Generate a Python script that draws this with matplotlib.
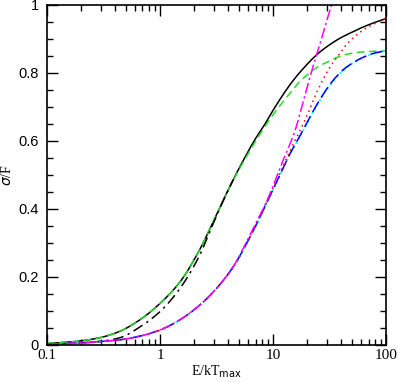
import numpy as np
import matplotlib
matplotlib.use("Agg")
import matplotlib.pyplot as plt
from matplotlib.ticker import FixedLocator, FuncFormatter, LogLocator, MultipleLocator

# Data
e_up = [0.1, 0.15, 0.2, 0.3, 0.44, 0.665, 1.0, 1.5, 2.26, 2.77, 3.5, 4.43, 5.5, 6.94, 8.5, 10, 14.1, 17.3, 25, 32, 39, 50, 62.6, 80, 100]
black_solid = [0.004, 0.008, 0.012, 0.022, 0.040, 0.074, 0.122, 0.185, 0.282, 0.342, 0.415, 0.485, 0.545, 0.605, 0.65, 0.69, 0.765, 0.802, 0.857, 0.884, 0.902, 0.92, 0.935, 0.949, 0.96]
green_dash = [0.004, 0.008, 0.012, 0.022, 0.040, 0.074, 0.122, 0.185, 0.282, 0.342, 0.415, 0.484, 0.54, 0.597, 0.643, 0.677, 0.74, 0.775, 0.818, 0.836, 0.849, 0.858, 0.862, 0.864, 0.865]

e_dd = [0.1, 0.15, 0.2, 0.3, 0.44, 0.665, 1.0, 1.5, 2.26, 2.77, 3.5, 4.43]
black_dashdot = [0.002, 0.004, 0.006, 0.011, 0.021, 0.053, 0.098, 0.166, 0.266, 0.335, 0.413, 0.485]

e_lo = [0.1, 0.15, 0.2, 0.3, 0.44, 0.665, 1.0, 1.5, 2.26, 3.0, 4.43, 6.65, 9.0, 11.5, 14, 17.3, 20, 26, 32, 39, 45, 62.6, 80, 100]
blue_dash = [0.002, 0.004, 0.006, 0.010, 0.015, 0.026, 0.044, 0.074, 0.118, 0.158, 0.229, 0.335, 0.425, 0.5, 0.56, 0.615, 0.655, 0.722, 0.767, 0.8, 0.818, 0.846, 0.859, 0.865]
cyan_dot = [0.002, 0.004, 0.006, 0.010, 0.015, 0.025, 0.043, 0.073, 0.117, 0.157, 0.228, 0.333, 0.423, 0.498, 0.558, 0.613, 0.653, 0.72, 0.765, 0.798, 0.817, 0.845, 0.858, 0.865]

e_red = [0.1, 0.15, 0.2, 0.3, 0.44, 0.665, 1.0, 1.5, 2.26, 3.0, 4.43, 6.65, 9.0, 11.5, 14, 17.3, 20, 24.5, 32, 39, 45, 62.6, 80, 100]
red_dot = [0.002, 0.004, 0.006, 0.010, 0.015, 0.026, 0.044, 0.074, 0.118, 0.158, 0.229, 0.336, 0.427, 0.505, 0.568, 0.63, 0.675, 0.745, 0.818, 0.857, 0.885, 0.926, 0.946, 0.96]

e_mag = [0.1, 0.15, 0.2, 0.3, 0.44, 0.665, 1.0, 1.5, 2.26, 3.0, 4.43, 6.65, 9.0, 11.5, 15.7, 19, 22.4, 26, 29, 33, 38]
magenta_dd = [0.002, 0.004, 0.006, 0.010, 0.015, 0.026, 0.044, 0.074, 0.118, 0.158, 0.23, 0.342, 0.43, 0.52, 0.632, 0.73, 0.815, 0.885, 0.94, 1.0, 1.07]

x_ticks = [0.1, 1, 10, 100]
y_ticks = [0, 0.2, 0.4, 0.6, 0.8, 1]


def smooth(e, v, n=400):
    # monotone cubic (Fritsch-Carlson) through the read points, in log E
    x = np.log10(e)
    y = np.asarray(v, float)
    h = np.diff(x)
    d = np.diff(y) / h
    m = np.zeros_like(y)
    m[0], m[-1] = d[0], d[-1]
    for i in range(1, len(y) - 1):
        if d[i - 1] * d[i] > 0:
            w1 = 2 * h[i] + h[i - 1]
            w2 = h[i] + 2 * h[i - 1]
            m[i] = (w1 + w2) / (w1 / d[i - 1] + w2 / d[i])
    xs = np.linspace(x[0], x[-1], n)
    k = np.clip(np.searchsorted(x, xs) - 1, 0, len(h) - 1)
    t = (xs - x[k]) / h[k]
    h00 = 2 * t**3 - 3 * t**2 + 1
    h10 = t**3 - 2 * t**2 + t
    h01 = -2 * t**3 + 3 * t**2
    h11 = t**3 - t**2
    ys = h00 * y[k] + h10 * h[k] * m[k] + h01 * y[k + 1] + h11 * h[k] * m[k + 1]
    return 10**xs, ys


# Plot
fig = plt.figure(figsize=(3.98, 3.82), dpi=100)
ax = fig.add_axes([0.118, 0.097, 0.852, 0.89])

ax.plot(*smooth(e_up, black_solid), color='black', lw=1.1)
ax.plot(*smooth(e_up, green_dash), color='#22dd22', lw=1.1, dashes=(5, 3))
ax.plot(*smooth(e_dd, black_dashdot), color='black', lw=1.1, dashes=(7, 3, 1.5, 3))
ax.plot(*smooth(e_lo, cyan_dot), color='cyan', lw=1.3, dashes=(1.2, 1.5))
ax.plot(*smooth(e_lo, blue_dash), color='blue', lw=1.1, dashes=(8, 3))
ax.plot(*smooth(e_red, red_dot), color='red', lw=1.1, dashes=(1, 2.5))
ax.plot(*smooth(e_mag, magenta_dd), color='magenta', lw=1.1, dashes=(7, 2, 1.5, 2))

ax.set_xscale('log')
ax.set_xlim(0.1, 100)
ax.set_ylim(0, 1)

ax.xaxis.set_major_locator(FixedLocator(x_ticks))
ax.xaxis.set_minor_locator(LogLocator(base=10, subs=np.arange(2, 10)))
ax.xaxis.set_major_formatter(FuncFormatter(lambda v, p: f"{v:g}"))
ax.yaxis.set_major_locator(FixedLocator(y_ticks))
ax.yaxis.set_minor_locator(MultipleLocator(0.05))
ax.yaxis.set_major_formatter(FuncFormatter(lambda v, p: f"{v:g}"))

ax.tick_params(which='both', direction='in', top=True, right=True, width=1)
ax.tick_params(which='major', length=8)
ax.tick_params(which='minor', length=4)
ax.tick_params(axis='x', pad=3)
ax.tick_params(axis='y', pad=6)
for lab in ax.get_xticklabels():
    lab.set_family('Liberation Serif')
    lab.set_fontsize(11)
for lab in ax.get_yticklabels():
    lab.set_family('Liberation Sans')
    lab.set_fontsize(10.5)
for s in ax.spines.values():
    s.set_linewidth(1.2)

ax.set_xlabel(r'E/kT$_{\rm max}$', family='Liberation Serif', fontsize=10, labelpad=1)
ax.set_ylabel(r'$\sigma$/F', family='Liberation Serif', fontsize=10, labelpad=3)

fig.savefig('out.png', dpi=100)
